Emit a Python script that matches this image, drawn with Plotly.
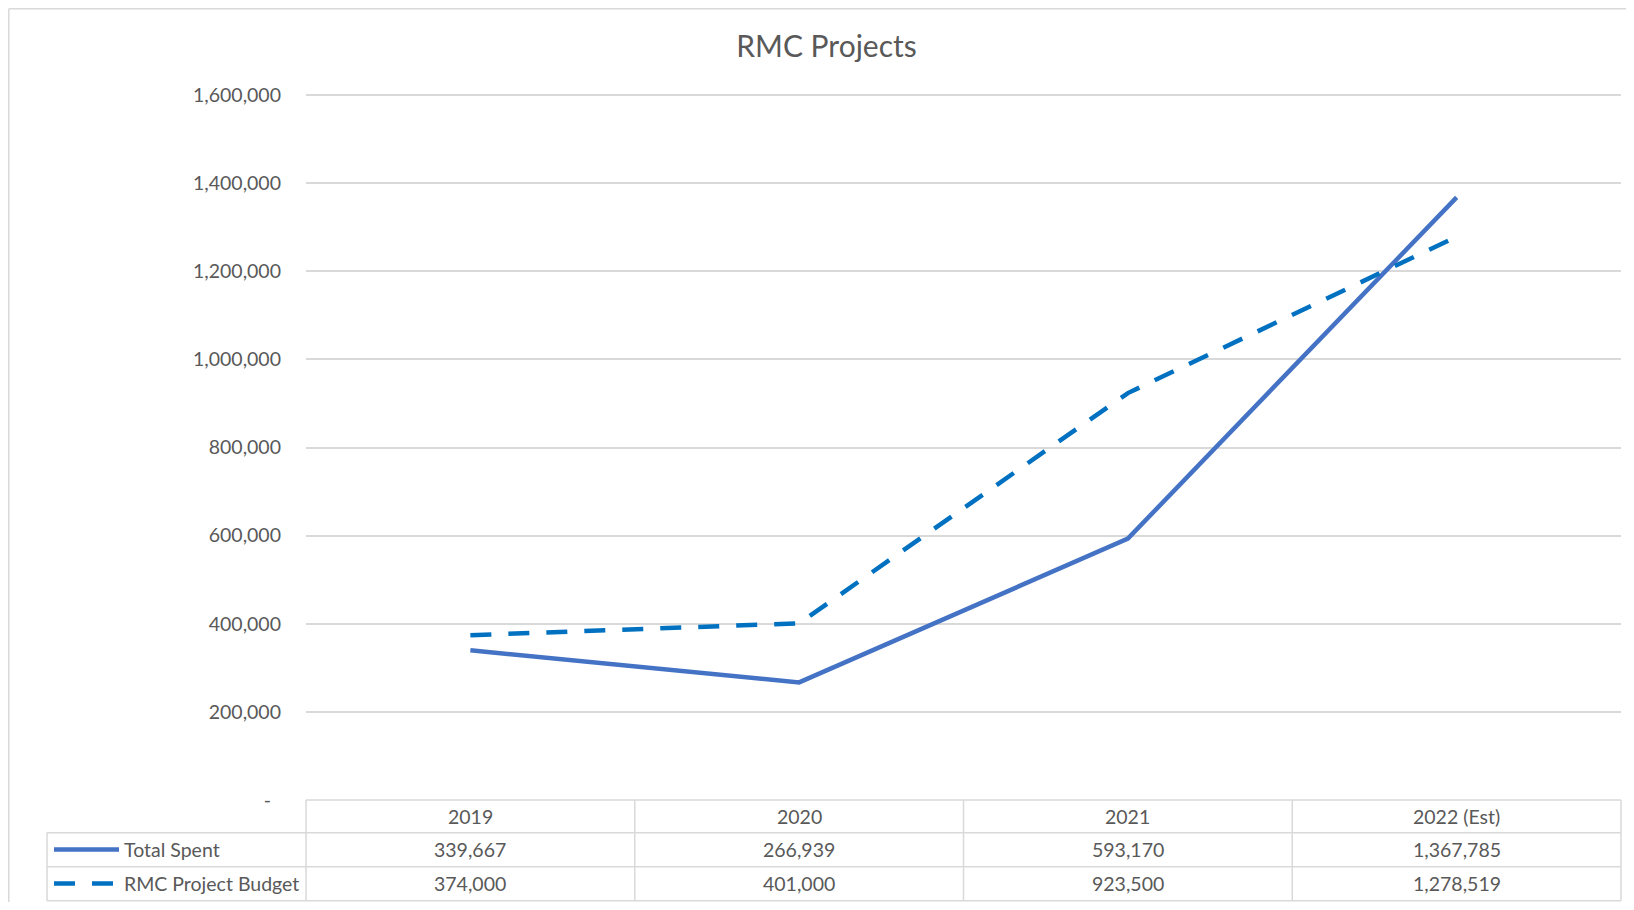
import plotly.graph_objects as go

categories = ["2019", "2020", "2021", "2022 (Est)"]
total_spent = [339667, 266939, 593170, 1367785]
budget = [374000, 401000, 923500, 1278519]
series_names = ["Total Spent", "RMC Project Budget"]
y_tickvals = [0, 200000, 400000, 600000, 800000, 1000000, 1200000, 1400000, 1600000]
y_ticktext = ["-\u00a0\u00a0"] + [f"{v:,}" for v in y_tickvals[1:]]

OFF = 8  # page body margin
W, H = 1634 - 2 * OFF, 910 - 2 * OFF
EXTRA = 2  # px of headroom above the top gridline so it is drawn
ML = 306 - OFF
MR = W - (1621 - OFF)
MT = 95 - OFF - EXTRA
MB = H - (800 - OFF)
PW, PH = W - ML - MR, H - MT - MB
Y_TOP = y_tickvals[-1] * PH / (PH - EXTRA)


def px_x(p):
    # p: pixel x in the window
    return (p - OFF - ML) / PW


def px_y(p):
    return (H - MB - (p - OFF)) / PH


TXT = "#595959"
GRID = "#D9D9D9"
FONT = "Lato"
FS = 19.5

x_idx = list(range(len(categories)))

fig = go.Figure()
fig.add_trace(go.Scatter(x=x_idx, y=total_spent, mode="lines", name=series_names[0],
                         line=dict(color="#4472C4", width=4.5), showlegend=False))
fig.add_trace(go.Scatter(x=x_idx, y=budget, mode="lines", name=series_names[1],
                         line=dict(color="#0070C0", width=4.5, dash="21px,17px"), showlegend=False))

shapes = []
annotations = []
LW = 1.5

row_lines = [0, px_y(832.7), px_y(866.7), px_y(900.7)]
left_leg = px_x(47)
n = len(categories)

# header top line
shapes.append(dict(type="line", xref="paper", yref="paper", x0=0, x1=1,
                   y0=row_lines[0], y1=row_lines[0], line=dict(color=GRID, width=LW)))
for yv in row_lines[1:]:
    shapes.append(dict(type="line", xref="paper", yref="paper", x0=left_leg, x1=1,
                       y0=yv, y1=yv, line=dict(color=GRID, width=LW)))
# outer vertical lines of the data table
for xv in (0, 1):
    shapes.append(dict(type="line", xref="paper", yref="paper", x0=xv, x1=xv,
                       y0=row_lines[0], y1=row_lines[3], line=dict(color=GRID, width=LW)))
# inner column separators
for i in range(1, n):
    shapes.append(dict(type="line", xref="x", yref="paper", x0=i - 0.5, x1=i - 0.5,
                       y0=row_lines[0], y1=row_lines[3], line=dict(color=GRID, width=LW)))
shapes.append(dict(type="line", xref="paper", yref="paper", x0=left_leg, x1=left_leg,
                   y0=row_lines[1], y1=row_lines[3], line=dict(color=GRID, width=LW)))

# chart area border (left and top) - at the figure's edge
bx, by = px_x(OFF + 0.8), px_y(OFF + 0.8)
shapes.append(dict(type="line", xref="paper", yref="paper", x0=bx, x1=bx,
                   y0=by, y1=px_y(960), line=dict(color=GRID, width=LW)))
shapes.append(dict(type="line", xref="paper", yref="paper", x0=bx, x1=px_x(1700),
                   y0=by, y1=by, line=dict(color=GRID, width=LW)))

# legend samples
shapes.append(dict(type="line", xref="paper", yref="paper", x0=px_x(54), x1=px_x(119),
                   y0=px_y(849.5), y1=px_y(849.5), line=dict(color="#4472C4", width=4.5)))
shapes.append(dict(type="line", xref="paper", yref="paper", x0=px_x(54), x1=px_x(114),
                   y0=px_y(883.5), y1=px_y(883.5),
                   line=dict(color="#0070C0", width=4.5, dash="21px,17px")))

row_centers = [px_y(816.3), px_y(849.7), px_y(883.7)]
for i, c in enumerate(categories):
    for r, txt in enumerate([c, f"{total_spent[i]:,}", f"{budget[i]:,}"]):
        annotations.append(dict(xref="x", yref="paper", x=i, y=row_centers[r], text=txt,
                                showarrow=False, font=dict(family=FONT, size=FS, color=TXT),
                                xanchor="center", yanchor="middle"))
for k, nm in enumerate(series_names):
    annotations.append(dict(xref="paper", yref="paper", x=px_x(122), y=row_centers[k + 1], text=nm,
                            showarrow=False, font=dict(family=FONT, size=FS, color=TXT),
                            xanchor="left", yanchor="middle"))

fig.update_layout(
    width=W, height=H,
    margin=dict(l=ML, r=MR, t=MT, b=MB),
    paper_bgcolor="white", plot_bgcolor="white",
    title=dict(text="RMC Projects", x=(826.5 - OFF) / W, xref="container", xanchor="center",
               y=1 - (46 - OFF) / H, yref="container", yanchor="middle",
               font=dict(family=FONT, size=30, color=TXT)),
    xaxis=dict(type="linear", range=[-0.5, n - 0.5], showgrid=False, showticklabels=False,
               zeroline=False, showline=False, fixedrange=True),
    yaxis=dict(range=[0, Y_TOP], tickvals=y_tickvals, ticktext=y_ticktext,
               showgrid=True, gridcolor=GRID, gridwidth=1.5, zeroline=False, showline=False,
               ticks="", ticklabelstandoff=24,
               tickfont=dict(family=FONT, size=FS, color=TXT), fixedrange=True),
    shapes=shapes, annotations=annotations, showlegend=False,
)

fig.write_html("out.html")
